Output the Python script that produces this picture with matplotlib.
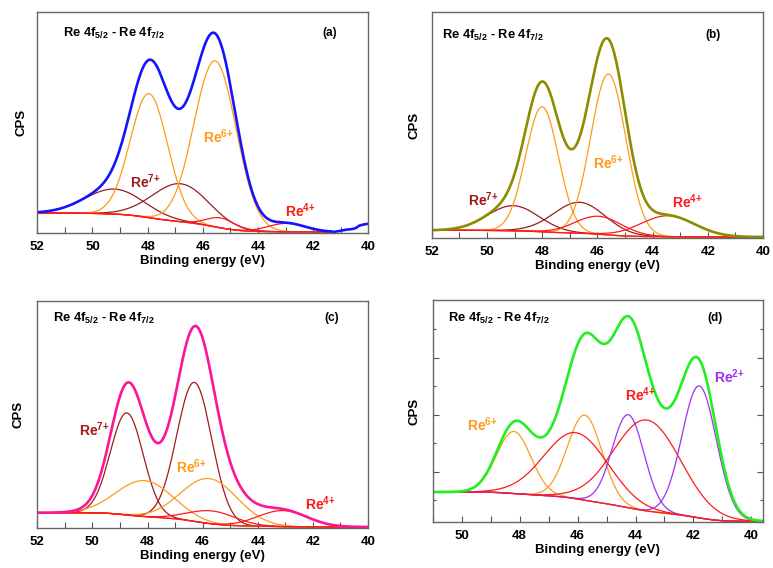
import matplotlib
matplotlib.use('Agg')
import matplotlib.pyplot as plt
from matplotlib.ticker import MultipleLocator, FixedLocator
import numpy as np

plt.rcParams['font.family'] = ['Liberation Sans', 'DejaVu Sans']
plt.rcParams['font.weight'] = 'bold'
plt.rcParams['mathtext.fontset'] = 'custom'
plt.rcParams['mathtext.rm'] = 'Liberation Sans:bold'
plt.rcParams['mathtext.it'] = 'Liberation Sans:bold'
plt.rcParams['mathtext.bf'] = 'Liberation Sans:bold'
plt.rcParams['mathtext.default'] = 'rm'

# Fit-Komponenten: Lage (eV), Hoehe ueber Untergrund, FWHM (eV)
# (a)
a_re7_pos, a_re7_amp, a_re7_fwhm = [49.2, 46.8], [25, 38], [2.5, 2.4]
a_re6_pos, a_re6_amp, a_re6_fwhm = [47.95, 45.55], [124, 166], [1.6, 1.8]
a_re4_pos, a_re4_amp, a_re4_fwhm = [45.35, 42.95], [10, 8.5], [1.2, 1.6]
a_bg = [1.0, 20.0]            # Untergrund: niedrige / hohe Bindungsenergie
a_range = [41.3, 52.0]
# gemessenes Ende der Kurve (a)
a_tail_e = [41.25, 41.0, 40.8, 40.57, 40.45, 40.33, 40.2, 40.0]
a_tail_y = [1.0, 2.3, 3.3, 4.0, 5.0, 7.3, 8.3, 9.3]

# (b)
b_re7_pos, b_re7_amp, b_re7_fwhm = [49.05, 46.65], [25, 31], [2.2, 2.2]
b_re6_pos, b_re6_amp, b_re6_fwhm = [48.0, 45.6], [125, 161], [1.4, 1.5]
b_re4_pos, b_re4_amp, b_re4_fwhm = [45.95, 43.45], [18, 21], [2.0, 2.3]
b_bg = [1.0, 7.7]
b_range = [40.0, 52.0]

# (c)
c_re7_pos, c_re7_amp, c_re7_fwhm = [48.75, 46.3], [102, 139], [1.4, 1.5]
c_re6_pos, c_re6_amp, c_re6_fwhm = [48.1, 45.75], [36, 45], [2.4, 2.4]
c_re4_pos, c_re4_amp, c_re4_fwhm = [45.65, 43.1], [13, 16], [2.0, 2.1]
c_bg = [1.0, 15.3]
c_range = [40.0, 52.0]

# (d)
d_re6_pos, d_re6_amp, d_re6_fwhm = [48.2, 45.75], [62, 85], [1.4, 1.4]
d_re4_pos, d_re4_amp, d_re4_fwhm = [46.05, 43.6], [66, 91], [2.6, 2.7]
d_re2_pos, d_re2_amp, d_re2_fwhm = [44.25, 41.8], [93, 132], [1.3, 1.4]
d_bg = [0.7, 30.0]
d_range = [39.6, 51.0]

# Farben
c_re7 = '#9e1b1b'
c_re6 = '#ff9a1a'
c_re4 = '#ff1a1a'
c_re2 = '#a030f0'


def gauss(e, pos, amp, fwhm):
    return amp * np.exp(-4 * np.log(2) * ((e - pos) / fwhm) ** 2)


def fit_panel(ax, erange, bg, groups, env_color, tail=None):
    e = np.linspace(erange[0], erange[1], 800)
    comps = []
    for pos, amp, fwhm, col in groups:
        for p, a, w in zip(pos, amp, fwhm):
            comps.append((gauss(e, p, a, w), col))
    total = sum(c for c, _ in comps)
    # Shirley-Untergrund
    cum = np.concatenate([[0], np.cumsum((total[1:] + total[:-1]) / 2 * np.diff(e))])
    back = bg[0] + (bg[1] - bg[0]) * cum / cum[-1]
    for c, col in comps:
        ax.plot(e, back + c, color=col, lw=0.9)
    ax.plot(e, back, color=c_re4, lw=0.9)
    env_e, env_y = e, back + total
    if tail is not None:
        env_e = np.concatenate([tail[0][::-1], e])
        env_y = np.concatenate([tail[1][::-1], back + total])
    ax.plot(env_e, env_y, color=env_color, lw=1.9)


fig = plt.figure(figsize=(7.73, 5.68), dpi=100)
W, H = 773.0, 568.0


def make_ax(left, right, top, bottom):
    return fig.add_axes([left / W, 1 - bottom / H, (right - left) / W, (bottom - top) / H])


ax_a = make_ax(37.3, 368.3, 12, 233)
ax_b = make_ax(431.7, 763, 12, 238)
ax_c = make_ax(37.3, 368, 300.7, 528)
ax_d = make_ax(432.7, 763, 300, 522)

fit_panel(ax_a, a_range, a_bg,
          [(a_re7_pos, a_re7_amp, a_re7_fwhm, c_re7),
           (a_re6_pos, a_re6_amp, a_re6_fwhm, c_re6),
           (a_re4_pos, a_re4_amp, a_re4_fwhm, c_re4)],
          '#1414ff', tail=(np.array(a_tail_e), np.array(a_tail_y)))
fit_panel(ax_b, b_range, b_bg,
          [(b_re7_pos, b_re7_amp, b_re7_fwhm, c_re7),
           (b_re6_pos, b_re6_amp, b_re6_fwhm, c_re6),
           (b_re4_pos, b_re4_amp, b_re4_fwhm, c_re4)],
          '#8c8c00')
fit_panel(ax_c, c_range, c_bg,
          [(c_re7_pos, c_re7_amp, c_re7_fwhm, c_re7),
           (c_re6_pos, c_re6_amp, c_re6_fwhm, c_re6),
           (c_re4_pos, c_re4_amp, c_re4_fwhm, c_re4)],
          '#ff1493')
fit_panel(ax_d, d_range, d_bg,
          [(d_re6_pos, d_re6_amp, d_re6_fwhm, c_re6),
           (d_re4_pos, d_re4_amp, d_re4_fwhm, c_re4),
           (d_re2_pos, d_re2_amp, d_re2_fwhm, c_re2)],
          '#22ee22')

# Achsen
panels = [(ax_a, (52, 40), 221, -0.031), (ax_b, (52, 40), 226, -0.035),
          (ax_c, (52, 40), 227.3, -0.039), (ax_d, (51, 39.6), 222, -0.038)]
for ax, xl, hh, lx in panels:
    ax.set_xlim(*xl)
    ax.set_ylim(0, hh)
    ax.xaxis.set_major_locator(MultipleLocator(2))
    ax.xaxis.set_minor_locator(MultipleLocator(1))
    ax.tick_params(axis='x', which='both', direction='in', length=4, width=0.8,
                   color='#555555', labelsize=9.5, pad=5.5)
    for s in ax.spines.values():
        s.set_color('#666666')
        s.set_linewidth(1.0)
    ax.set_xlabel('Binding energy (eV)', fontsize=9.5, fontweight='bold', labelpad=2)
    ax.set_ylabel('CPS', fontsize=9.5, fontweight='bold')
    ax.yaxis.set_label_coords(lx, 0.5)

for ax in [ax_a, ax_b, ax_c]:
    ax.set_yticks([])

# (d) hat Teilstriche an beiden Seiten
ax_d.yaxis.set_major_locator(FixedLocator([50.5, 107.5, 164.5]))
ax_d.yaxis.set_minor_locator(FixedLocator([22, 79, 136, 193]))
ax_d.tick_params(axis='y', which='both', direction='in', left=True, right=True,
                 labelleft=False, color='#555555', width=0.8)
ax_d.tick_params(axis='y', which='major', length=4)
ax_d.tick_params(axis='y', which='minor', length=2.5)

# Beschriftungen
title = 'Re 4f$_{5/2}$ - Re 4f$_{7/2}$'
ax_a.text(51.06, 200, title, fontsize=9.3, va='center', ha='left')
ax_b.text(51.64, 203, title, fontsize=9.3, va='center', ha='left')
ax_c.text(51.42, 210, title, fontsize=9.3, va='center', ha='left')
ax_d.text(50.46, 204, title, fontsize=9.3, va='center', ha='left')

ax_a.text(41.39, 200, '(a)', fontsize=8.5, va='center', ha='center')
ax_b.text(41.8, 203, '(b)', fontsize=8.5, va='center', ha='center')
ax_c.text(41.33, 210, '(c)', fontsize=8.5, va='center', ha='center')
ax_d.text(41.25, 204, '(d)', fontsize=8.5, va='center', ha='center')

re7 = 'Re$^{7{+}}$'
re6 = 'Re$^{6{+}}$'
re4 = 'Re$^{4{+}}$'
re2 = 'Re$^{2{+}}$'

ax_a.text(48.64, 51, re7, color=c_re7, fontsize=10, va='center')
ax_a.text(46.0, 96, re6, color=c_re6, fontsize=10, va='center')
ax_a.text(43.02, 22, re4, color=c_re4, fontsize=10, va='center')

ax_b.text(50.67, 38, re7, color=c_re7, fontsize=10, va='center')
ax_b.text(46.14, 75, re6, color=c_re6, fontsize=10, va='center')
ax_b.text(43.28, 36, re4, color=c_re4, fontsize=10, va='center')

ax_c.text(50.48, 98, re7, color=c_re7, fontsize=10, va='center')
ax_c.text(46.95, 61, re6, color=c_re6, fontsize=10, va='center')
ax_c.text(42.3, 24.7, re4, color=c_re4, fontsize=10, va='center')

ax_d.text(49.83, 97, re6, color=c_re6, fontsize=10, va='center')
ax_d.text(44.36, 127, re4, color=c_re4, fontsize=10, va='center')
ax_d.text(41.3, 145.3, re2, color=c_re2, fontsize=10, va='center')

fig.savefig('out.png', dpi=100)
